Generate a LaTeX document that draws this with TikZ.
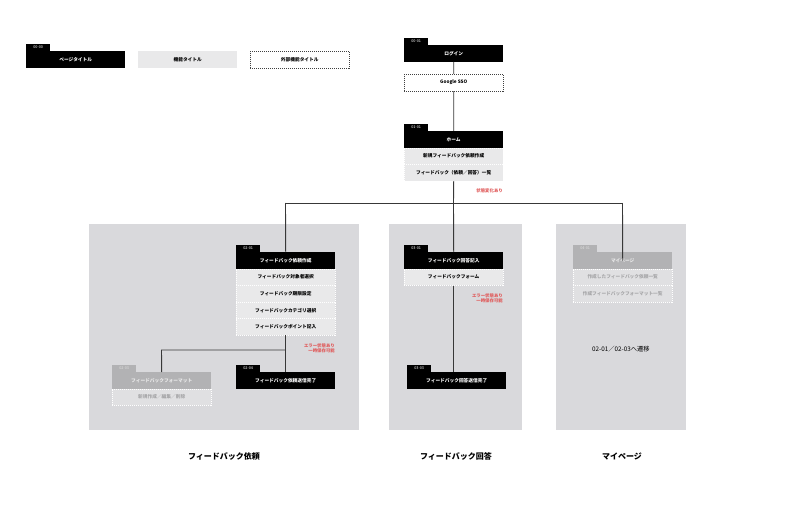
\documentclass[tikz,border=0pt]{standalone}
\usepackage{fontspec}
\setmainfont{Noto Sans CJK JP}
\newfontfamily\cjk{Noto Sans CJK JP}
\definecolor{panelc}{HTML}{D9D9DC}
\definecolor{rowc}{HTML}{E9E9EA}
\definecolor{greyt}{HTML}{B2B2B4}
\definecolor{greyr}{HTML}{E0E0E2}
\definecolor{greytxt}{HTML}{A6A6A8}
\definecolor{redc}{HTML}{E05A5A}
\definecolor{linec}{HTML}{383838}
\tikzset{
  boxbase/.style={anchor=north west, inner sep=0pt, minimum width=99pt, minimum height=16.6pt,
    font=\cjk\bfseries\fontsize{4.7}{5.5}\selectfont},
  pagebox/.style={boxbase, fill=black, text=white},
  funcbox/.style={boxbase, fill=rowc, text=black},
  rowbox/.style={boxbase, fill=rowc, text=black, draw=white, line width=0.4pt, dash pattern=on 1pt off 1pt},
  extbox/.style={boxbase, fill=white, text=black, draw=black!75, line width=0.5pt, dash pattern=on 1pt off 1pt},
  greytitle/.style={boxbase, fill=greyt, text=white!92!black},
  greyrow/.style={boxbase, fill=greyr, text=greytxt, draw=white, line width=0.4pt, dash pattern=on 1pt off 1pt},
  tagbox/.style={anchor=south west, inner sep=0pt, minimum width=24pt, minimum height=7pt,
    fill=black, text=white, font=\cjk\fontsize{3.8}{4}\selectfont},
  greytag/.style={tagbox, fill=greyt, text=white!88!black},
  panelbox/.style={anchor=north west, inner sep=0pt, fill=panelc},
  conn/.style={draw=linec, line width=0.9pt},
  redtxt/.style={anchor=east, inner sep=0pt, text=redc, font=\cjk\bfseries\fontsize{4.4}{5.2}\selectfont, align=right},
  ptitle/.style={inner sep=0pt, font=\cjk\bfseries\fontsize{8}{9.5}\selectfont},
}
\begin{document}
\begin{tikzpicture}[x=1pt,y=-1pt]
\useasboundingbox (0,0) rectangle (800,508);
\fill[white] (0,0) rectangle (800,508);

% panels
\node[panelbox, minimum width=270pt, minimum height=206pt] (p1) at (89,224) {};
\node[panelbox, minimum width=133pt, minimum height=206pt] (p2) at (389,224) {};
\node[panelbox, minimum width=130pt, minimum height=206pt] (p3) at (556,224) {};

% legend
\node[pagebox] (lg1) at (26,51) {ページタイトル};
\node[tagbox] (tg0) at (lg1.north west) {00-00};
\node[funcbox] (lg2) at (138,51) {機能タイトル};
\node[extbox] (lg3) at (250,51) {外部機能タイトル};

% login / sso / home
\node[pagebox] (login) at (404,45) {ログイン};
\node[tagbox] (tg1) at (login.north west) {00-01};
\node[extbox] (sso) at (404,74) {Google SSO};
\node[pagebox] (home) at (404,131) {ホーム};
\node[tagbox] (tg2) at (home.north west) {01-01};
\node[rowbox] (h1) at (404,147.6) {新規フィードバック依頼作成};
\node[rowbox] (h2) at (404,164.2) {フィードバック（依頼／回答）一覧};

\coordinate (jc) at (453.5,203);
\coordinate (jl) at (285.5,203);
\coordinate (jr) at (622.5,203);

% left panel
\node[pagebox] (r0) at (236,252) {フィードバック依頼作成};
\node[tagbox] (tg3) at (r0.north west) {02-01};
\node[rowbox] (r1) at (236,268.6) {フィードバック対象者選択};
\node[rowbox] (r2) at (236,285.2) {フィードバック期限設定};
\node[rowbox] (r3) at (236,301.8) {フィードバックカテゴリ選択};
\node[rowbox] (r4) at (236,318.4) {フィードバックポイント記入};
\node[pagebox] (d4) at (236,372) {フィードバック依頼送信完了};
\node[tagbox] (tg4) at (d4.north west) {02-04};
\node[greytitle] (fmt) at (112,372) {フィードバックフォーマット};
\node[greytag] (tg5) at (fmt.north west) {02-03};
\node[greyrow] (fmt1) at (112,388.6) {新規作成／編集／削除};
\coordinate (b1) at (285.5,350);
\coordinate (b2) at (161.5,350);

% middle panel
\node[pagebox] (a0) at (404,252) {フィードバック回答記入};
\node[tagbox] (tg6) at (a0.north west) {03-01};
\node[rowbox] (a1) at (404,268.6) {フィードバックフォーム};
\node[pagebox] (a3) at (407,372) {フィードバック回答送信完了};
\node[tagbox] (tg7) at (a3.north west) {03-03};

% right panel
\node[greytitle] (m0) at (573,252) {マイページ};
\node[greytag] (tg8) at (m0.north west) {04-01};
\node[greyrow] (m1) at (573,268.6) {作成したフィードバック依頼一覧};
\node[greyrow] (m2) at (573,285.2) {作成フィードバックフォーマット一覧};
\node[inner sep=0pt, font=\cjk\fontsize{6.3}{7.5}\selectfont] (mtxt) at (621,349) {02-01／02-03へ遷移};

% connectors
\draw[conn] (login.south) -- (sso.north);
\draw[conn] (sso.south) -- (home.north);
\draw[conn] (h2.south) -- (jc);
\draw[conn] (jl) -- (jr);
\draw[conn] (jl) -- (r0.north);
\draw[conn] (r4.south) -- (d4.north);
\draw[conn] (b1) -- (b2) -- (fmt.north);
\draw[conn] (jc |- jl) -- (a0.north);
\draw[conn] (a1.south) -- (a1.south |- a3.north);
\draw[conn] (jr) -- (m0.center);

% red notes
\node[redtxt] (n1) at (503,191) {状態変化あり};
\node[redtxt] (n2) at (335,348.5) {エラー状態あり\\[-0.3pt]一時保存可能};
\node[redtxt] (n3) at (503,298.5) {エラー状態あり\\[-0.3pt]一時保存可能};

% panel titles
\node[ptitle] (t1) at (224,456) {フィードバック依頼};
\node[ptitle] (t2) at (456,456) {フィードバック回答};
\node[ptitle] (t3) at (622,456) {マイページ};
\end{tikzpicture}
\end{document}
